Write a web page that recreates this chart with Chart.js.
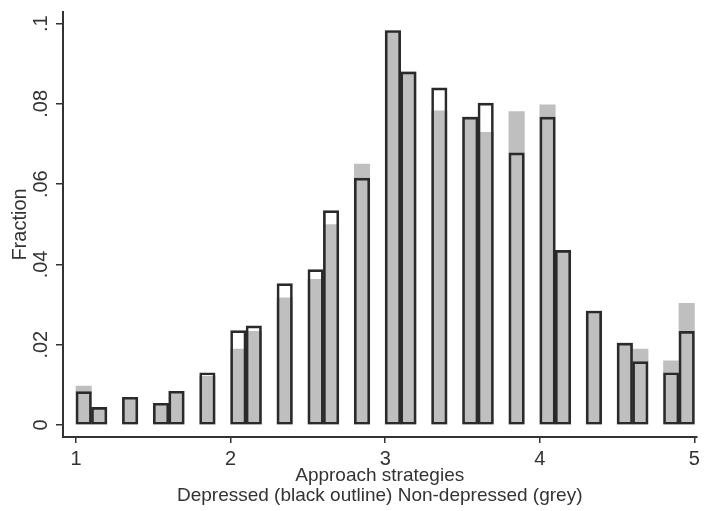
<!DOCTYPE html>
<html>
<head>
<meta charset="utf-8">
<script src="https://cdn.jsdelivr.net/npm/chart.js@4/dist/chart.umd.min.js"></script>
<style>
  html, body { margin: 0; padding: 0; background: #fff; }
  #wrap { width: 704px; height: 511px; }
</style>
</head>
<body>
<div id="wrap"><canvas id="hist"></canvas></div>
<script>
// bin midpoints (bin width 0.1)
const binMids = [1.05, 1.15, 1.35, 1.55, 1.65, 1.85, 2.05, 2.15, 2.35, 2.55, 2.65, 2.85,
  3.05, 3.15, 3.35, 3.55, 3.65, 3.85, 4.05, 4.15, 4.35, 4.55, 4.65, 4.85, 4.95];
// fraction per bin, depressed group (black outline)
const depressed = [0.0083, 0.0044, 0.0069, 0.0054, 0.0084, 0.0130, 0.0235, 0.0247, 0.0352, 0.0387, 0.0534, 0.0615,
  0.0983, 0.0880, 0.0840, 0.0767, 0.0802, 0.0678, 0.0767, 0.0435, 0.0284, 0.0204, 0.0158, 0.0130, 0.0233];
// fraction per bin, non-depressed group (grey)
const nonDepressed = [0.0097, 0.0040, 0.0069, 0.0054, 0.0084, 0.0122, 0.0189, 0.0233, 0.0317, 0.0363, 0.0499, 0.0650,
  0.0983, 0.0880, 0.0783, 0.0767, 0.0729, 0.0781, 0.0798, 0.0435, 0.0284, 0.0204, 0.0189, 0.0160, 0.0303];

const xTicks = [1, 2, 3, 4, 5];
const yTicks = [0, 0.02, 0.04, 0.06, 0.08, 0.1];
const yTickLabels = ['0', '.02', '.04', '.06', '.08', '.1'];

const FONT = '"Liberation Sans", Arial, sans-serif';
const INK = '#333';

const toPoints = vals => vals.map((v, i) => ({ x: binMids[i], y: v }));

// y labels are drawn rotated, reading bottom to top
const rotatedYLabels = {
  id: 'rotatedYLabels',
  afterDraw(chart) {
    const ctx = chart.ctx;
    const ys = chart.scales.y;
    ctx.save();
    ctx.fillStyle = INK;
    ctx.font = '20px ' + FONT;
    ctx.textAlign = 'center';
    ctx.textBaseline = 'alphabetic';
    yTicks.forEach((v, i) => {
      ctx.save();
      ctx.translate(47, ys.getPixelForValue(v));
      ctx.rotate(-Math.PI / 2);
      ctx.fillText(yTickLabels[i], 0, 0);
      ctx.restore();
    });
    ctx.restore();
  }
};

new Chart(document.getElementById('hist'), {
  type: 'bar',
  data: {
    datasets: [
      {
        label: 'Depressed',
        data: toPoints(depressed),
        backgroundColor: 'rgba(0,0,0,0)',
        borderColor: '#2a2a2a',
        borderWidth: 2,
        borderSkipped: false,
        order: 1
      },
      {
        label: 'Non-depressed',
        data: toPoints(nonDepressed),
        backgroundColor: '#bfbfbf',
        borderWidth: 0,
        order: 2
      }
    ]
  },
  options: {
    responsive: true,
    maintainAspectRatio: false,
    animation: false,
    grouped: false,
    barPercentage: 1,
    categoryPercentage: 1,
    layout: { padding: { top: 12, right: 5, left: 0, bottom: 0 } },
    plugins: { legend: { display: false }, tooltip: { enabled: false } },
    scales: {
      x: {
        type: 'linear',
        min: 0.916,
        max: 5.013,
        offset: false,
        afterBuildTicks: s => { s.ticks = xTicks.map(v => ({ value: v })); },
        afterFit: s => { s.height = 74; },
        grid: { display: true, offset: false, drawOnChartArea: false, drawTicks: true, tickLength: 6, color: INK, lineWidth: 1.5 },
        border: { display: true, color: INK, width: 2 },
        ticks: { color: INK, font: { family: FONT, size: 20 }, padding: 4, maxRotation: 0, autoSkip: false },
        title: {
          display: true,
          text: ['Approach strategies', 'Depressed (black outline) Non-depressed (grey)'],
          color: INK,
          font: { family: FONT, size: 19, lineHeight: 1.05 },
          padding: { top: 0, bottom: 5 }
        }
      },
      y: {
        min: -0.003,
        max: 0.1029,
        afterBuildTicks: s => { s.ticks = yTicks.map(v => ({ value: v })); },
        afterFit: s => { s.width = 63; },
        grid: { display: true, drawOnChartArea: false, drawTicks: true, tickLength: 7, color: INK, lineWidth: 1.5 },
        border: { display: true, color: INK, width: 2 },
        ticks: { display: false },
        title: {
          display: true,
          text: 'Fraction',
          color: INK,
          font: { family: FONT, size: 20 },
          padding: { top: 8, bottom: 0 }
        }
      }
    }
  },
  plugins: [rotatedYLabels]
});
</script>
</body>
</html>
